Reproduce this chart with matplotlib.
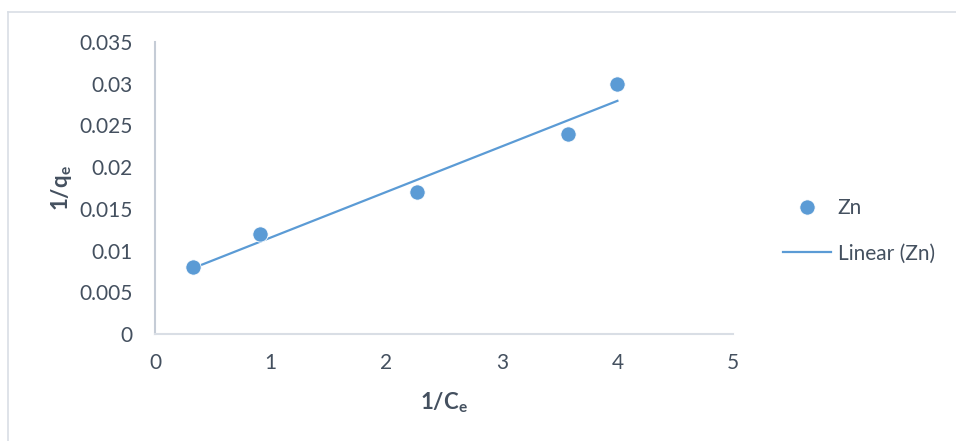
import matplotlib
matplotlib.use("Agg")
import matplotlib.pyplot as plt
import numpy as np
from matplotlib.lines import Line2D

# Data
inv_ce = [0.33, 0.91, 2.27, 3.57, 4.00]
inv_qe = [0.008, 0.012, 0.017, 0.024, 0.030]
x_ticks = [0, 1, 2, 3, 4, 5]
y_ticks = [0, 0.005, 0.01, 0.015, 0.02, 0.025, 0.03, 0.035]
y_tick_labels = ["0", "0.005", "0.01", "0.015", "0.02", "0.025", "0.03", "0.035"]
series_name = "Zn"

plt.rcParams['font.family'] = ['Lato', 'DejaVu Sans']
plt.rcParams['mathtext.fontset'] = 'custom'
plt.rcParams['mathtext.rm'] = 'Lato'
plt.rcParams['mathtext.bf'] = 'Lato:bold'

W, H, DPI = 956, 441, 100
fig = plt.figure(figsize=(W / DPI, H / DPI), dpi=DPI)
fig.patch.set_facecolor('white')

# outer chart border (top and left visible)
border_c = '#D9DEE5'
fig.add_artist(Line2D([8 / W, 1.0], [1 - 12 / H, 1 - 12 / H], transform=fig.transFigure,
                      color=border_c, lw=1.2))
fig.add_artist(Line2D([8 / W, 8 / W], [0.0, 1 - 12 / H], transform=fig.transFigure,
                      color=border_c, lw=1.2))

left, right, top, bottom = 155, 733, 42, 334
ax = fig.add_axes([left / W, 1 - bottom / H, (right - left) / W, (bottom - top) / H])

blue = '#5B9BD5'
text_c = '#44505F'

# trendline (least squares)
x = np.array(inv_ce)
y = np.array(inv_qe)
slope, intercept = np.polyfit(x, y, 1)
xl = np.array([x.min(), x.max()])
ax.plot(xl, slope * xl + intercept, color=blue, lw=1.6, zorder=2)
ax.plot(x, y, 'o', color=blue, ms=11, mec='white', mew=0.6, zorder=3)

ax.set_xlim(0, 5)
ax.set_ylim(0, 0.035)
ax.set_xticks(x_ticks)
ax.set_yticks(y_ticks)
ax.set_yticklabels(y_tick_labels)

for s in ['top', 'right']:
    ax.spines[s].set_visible(False)
ax.spines['left'].set_color('#C5CCD6')
ax.spines['bottom'].set_color('#D9DEE5')
ax.spines['left'].set_linewidth(1.5)
ax.spines['bottom'].set_linewidth(1.5)

ax.tick_params(axis='both', length=0, labelsize=15, labelcolor=text_c)
ax.tick_params(axis='y', pad=16)
ax.tick_params(axis='x', pad=14)

ax.set_xlabel(r'$\mathbf{1/C_e}$', fontsize=16, color=text_c, labelpad=12)
ax.set_ylabel(r'$\mathbf{1/q_e}$', fontsize=16, color=text_c, labelpad=4)

# legend
handles = [
    Line2D([], [], ls='none', marker='o', color=blue, ms=11, mec='white', mew=0.6),
    Line2D([], [], color=blue, lw=1.6),
]
labels = [series_name, f"Linear ({series_name})"]
fig.legend(handles, labels, loc='center left', bbox_to_anchor=(775 / W, 1 - 231 / H),
           frameon=False, fontsize=15, labelcolor=text_c, handlelength=2.3,
           handletextpad=0.3, labelspacing=1.2, borderaxespad=0)

fig.savefig('out.png', dpi=DPI)
